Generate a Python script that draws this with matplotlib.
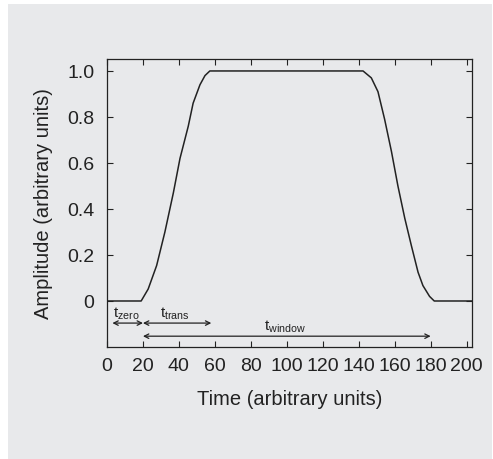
import numpy as np
import matplotlib.pyplot as plt
from matplotlib.patches import Rectangle

plt.rcParams['font.family'] = ['Liberation Sans', 'DejaVu Sans']
plt.rcParams['mathtext.fontset'] = 'custom'
plt.rcParams['mathtext.rm'] = 'Liberation Sans'
plt.rcParams['mathtext.it'] = 'Liberation Sans'

#- window shape
time = [0, 19, 22.9, 27.6, 32.2, 36.9, 40.6, 45.2, 47.9, 51.7, 54.5, 57.2,
        142.4, 147, 150.7, 154.4, 158.2, 161.8, 165.6, 169.3, 173, 175.7, 179.4, 182, 203]
amp = [0, 0, 0.052, 0.154, 0.30, 0.47, 0.62, 0.76, 0.86, 0.94, 0.98, 1.0,
       1.0, 0.97, 0.91, 0.79, 0.65, 0.50, 0.36, 0.24, 0.125, 0.067, 0.02, 0, 0]

#- intervals: (label, start, end, arrow y, label x, label y)
spans = [('zero', 3, 20, -0.096, 11, -0.05),
         ('trans', 20, 58, -0.096, 38, -0.05),
         ('window', 20, 180, -0.153, 99, -0.11)]

xticks = np.arange(0, 201, 20)
yticks = [0, 0.2, 0.4, 0.6, 0.8, 1.0]
ytlabels = ['0', '0.2', '0.4', '0.6', '0.8', '1.0']

bg = '#e8e9eb'
ink = '#222222'

fig = plt.figure(figsize=(4.93, 4.6), dpi=100, facecolor='white')
fig.patches.append(Rectangle((8/493, 0), (492-8)/493, (460-5)/460,
                             transform=fig.transFigure, facecolor=bg,
                             edgecolor='none', zorder=-1))
ax = fig.add_axes([107/493, 1-348/460, (472-107)/493, (348-60)/460])
ax.set_facecolor(bg)

ax.plot(time, amp, color=ink, lw=1.1)

for name, t0, t1, ya, xl, yl in spans:
    ax.annotate('', xy=(t0, ya), xytext=(t1, ya),
                arrowprops=dict(arrowstyle='<->', color=ink, lw=0.9,
                                shrinkA=0, shrinkB=0, mutation_scale=8))
    ax.text(xl, yl, r'$\mathrm{t}_{\mathrm{' + name + '}}$', ha='center', va='center',
            fontsize=11, color=ink)

ax.set_xlim(0, 203)
ax.set_ylim(-0.2, 1.052)
ax.set_xticks(xticks)
ax.set_yticks(yticks)
ax.set_yticklabels(ytlabels)
ax.tick_params(direction='in', top=True, right=True, length=4, width=0.8,
               labelsize=14, colors=ink, labelcolor=ink, pad=7)
ax.tick_params(axis='y', pad=9)
for s in ax.spines.values():
    s.set_linewidth(0.9)
    s.set_color(ink)

ax.set_xlabel('Time (arbitrary units)', fontsize=14.5, color=ink, labelpad=11)
ax.set_ylabel('Amplitude (arbitrary units)', fontsize=14.5, color=ink, labelpad=10)

plt.savefig('out.png', dpi=100, facecolor='white')
